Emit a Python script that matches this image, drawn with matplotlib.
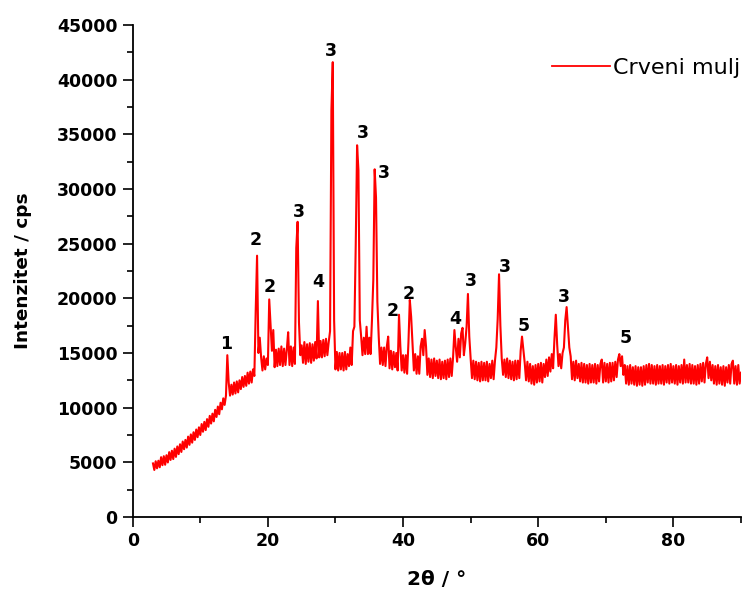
import numpy as np
import matplotlib
matplotlib.use("Agg")
import matplotlib.pyplot as plt
from matplotlib.ticker import MultipleLocator

# Measurement grid: 2theta from 3 to 90 degrees, step 0.2
two_theta = np.round(np.arange(3.0, 90.0001, 0.2), 1)

# Intensity (cps), one row per degree: d.0, d.2, d.4, d.6, d.8
counts_3_13 = [
    4900, 4300, 5100, 4450, 5150,      # 3
    4550, 5470, 4740, 5560, 4780,      # 4
    5650, 4990, 5930, 5220, 6060,      # 5
    5300, 6250, 5500, 6450, 5750,      # 6
    6650, 5950, 6900, 6200, 7050,      # 7
    6350, 7350, 6600, 7550, 6800,      # 8
    7750, 7050, 8000, 7300, 8200,      # 9
    7500, 8500, 7800, 8700, 7950,      # 10
    8950, 8250, 9250, 8550, 9450,      # 11
    8750, 9800, 9150, 10100, 9400,     # 12
    10450, 9850, 10850, 10250, 11100,  # 13
]
counts_14_29 = [
    14800, 12300, 11100, 12100, 11200, # 14
    12300, 11300, 12400, 11400, 12500, # 15
    11700, 12800, 11900, 12900, 12000, # 16
    13200, 12200, 13300, 12300, 13500, # 17
    12900, 18900, 23900, 15000, 16400, # 18
    14600, 13400, 14700, 13500, 14500, # 19
    13900, 19900, 17500, 15200, 17100, # 20
    13700, 15300, 13800, 15400, 13900, # 21
    15600, 13800, 15400, 13900, 15300, # 22
    16900, 13900, 15600, 13800, 15500, # 23
    14000, 24600, 27000, 17800, 14800, # 24
    15700, 14100, 16000, 14000, 15800, # 25
    14200, 15900, 14100, 15800, 14300, # 26
    16000, 14500, 19750, 14600, 16100, # 27
    14600, 16200, 14700, 16300, 14800, # 28
    16000, 17000, 37200, 41600, 18000, # 29
]
counts_30_49 = [
    13500, 15100, 13400, 15000, 13500, # 30
    15000, 13400, 15100, 13500, 14900, # 31
    13800, 15500, 13900, 17000, 17400, # 32
    24900, 34000, 31700, 18000, 16500, # 33
    14800, 16400, 14900, 17400, 14900, # 34
    16400, 14900, 18000, 21700, 31800, # 35
    29200, 19700, 16500, 14000, 15500, # 36
    13900, 15500, 13800, 15600, 16500, # 37
    13600, 15200, 13500, 15100, 13700, # 38
    15000, 13400, 18500, 15600, 13400, # 39
    14800, 13200, 14800, 13100, 16000, # 40
    19850, 18300, 15800, 13400, 14900, # 41
    13100, 14700, 13100, 15600, 16300, # 42
    14800, 17100, 15600, 13000, 14500, # 43
    12800, 14400, 12700, 14500, 12900, # 44
    14300, 12700, 14400, 12600, 14200, # 45
    12700, 14300, 12600, 14400, 12800, # 46
    14500, 12900, 14600, 17100, 15500, # 47
    14200, 16300, 14600, 16800, 17300, # 48
    14800, 15900, 17400, 20400, 16500, # 49
]
counts_50_69 = [
    14500, 12700, 14300, 12600, 14200, # 50
    12500, 14100, 12400, 14200, 12500, # 51
    14100, 12500, 14200, 12400, 14000, # 52
    12700, 14300, 12600, 14300, 15500, # 53
    18100, 22200, 17500, 14500, 13000, # 54
    14400, 12800, 14500, 12700, 14300, # 55
    12600, 14200, 12500, 14300, 12600, # 56
    14300, 12700, 15200, 16500, 15300, # 57
    14100, 12500, 14200, 12400, 14000, # 58
    12200, 13800, 12100, 13900, 12300, # 59
    14000, 12400, 14100, 12300, 14000, # 60
    12800, 14400, 12900, 14600, 13300, # 61
    14900, 13600, 16300, 18500, 15800, # 62
    13800, 14900, 13600, 15000, 15500, # 63
    18000, 19200, 17400, 15500, 14700, # 64
    12600, 14200, 12500, 14300, 12700, # 65
    14000, 12400, 14100, 12300, 14000, # 66
    12300, 13900, 12200, 14000, 12300, # 67
    13900, 12300, 14000, 12200, 13900, # 68
    12400, 14000, 14400, 12300, 14100, # 69
]
counts_70_90 = [
    12400, 14000, 12300, 14100, 12400, # 70
    14100, 12500, 14200, 12800, 14400, # 71
    14900, 13800, 14700, 13000, 13900, # 72
    12200, 13800, 12100, 13900, 12200, # 73
    13700, 12100, 13800, 12000, 13700, # 74
    12100, 13700, 12000, 13800, 12100, # 75
    13900, 12300, 14000, 12200, 13900, # 76
    12200, 13800, 12100, 13900, 12200, # 77
    13800, 12200, 13900, 12100, 13800, # 78
    12300, 13900, 12200, 14000, 12300, # 79
    13800, 12200, 13900, 12100, 13800, # 80
    12300, 13900, 12200, 14400, 12300, # 81
    13900, 12300, 14000, 12200, 13900, # 82
    12200, 13800, 12100, 13900, 12200, # 83
    14000, 12400, 14100, 12300, 14000, # 84
    14600, 12700, 14200, 12500, 13900, # 85
    12200, 13800, 12100, 13900, 12200, # 86
    13700, 12100, 13800, 12000, 13700, # 87
    12300, 13900, 12200, 14000, 14300, # 88
    12200, 13800, 12100, 13900, 12200, # 89
    13200,                             # 90
]
intensity = np.array(counts_3_13 + counts_14_29 + counts_30_49
                     + counts_50_69 + counts_70_90, dtype=float)

# Phase markers above the reflections
marker_text = ["1", "2", "2", "3", "4", "3", "3", "3", "2", "2",
               "4", "3", "3", "5", "3", "5"]
marker_x = [13.76, 18.24, 20.2, 24.65, 27.45, 29.29, 34.0, 37.2, 38.4, 40.9,
            47.7, 50.1, 55.1, 57.9, 63.8, 72.9]
marker_y = [15830, 25350, 21070, 27880, 21530, 42640, 35100, 31500, 18880,
            20410, 18090, 21620, 22900, 17500, 20160, 16400]

x_ticks = [0, 20, 40, 60, 80]
y_ticks = [0, 5000, 10000, 15000, 20000, 25000, 30000, 35000, 40000, 45000]

plt.rcParams["font.family"] = ["DejaVu Sans"]

fig = plt.figure(figsize=(7.43, 5.95), dpi=100)
ax = fig.add_axes([0.1786, 0.1311, 0.8187, 0.8269])

ax.plot(two_theta, intensity, color="#ff0000", lw=1.5, label="Crveni mulj")

for t, xm, ym in zip(marker_text, marker_x, marker_y):
    ax.text(xm, ym, t, ha="center", va="center", fontsize=12.5,
            fontweight="bold", color="black")

ax.set_xlim(0, 90)
ax.set_ylim(0, 45000)
ax.set_xticks(x_ticks)
ax.set_yticks(y_ticks)
ax.xaxis.set_minor_locator(MultipleLocator(10))
ax.yaxis.set_minor_locator(MultipleLocator(2500))

for side in ("top", "right"):
    ax.spines[side].set_visible(False)
for side in ("left", "bottom"):
    ax.spines[side].set_linewidth(1.3)

ax.tick_params(which="major", direction="out", length=7, width=1.2,
               labelsize=12.5, pad=4)
ax.tick_params(which="minor", direction="out", length=4, width=1.2)
for lab in ax.get_xticklabels() + ax.get_yticklabels():
    lab.set_fontweight("bold")

ax.set_xlabel("2θ / °", fontsize=14.5, fontweight="bold", labelpad=14)
ax.set_ylabel("Intenzitet / cps", fontsize=13.3, fontweight="bold", labelpad=18)

leg = ax.legend(loc="center left", bbox_to_anchor=(552 / 743, 1 - 68 / 595),
                bbox_transform=fig.transFigure, frameon=False, fontsize=16,
                handlelength=2.6, handletextpad=0.15, borderpad=0,
                borderaxespad=0)
for h in leg.get_lines():
    h.set_linewidth(1.3)

fig.savefig("out.png", dpi=100)
